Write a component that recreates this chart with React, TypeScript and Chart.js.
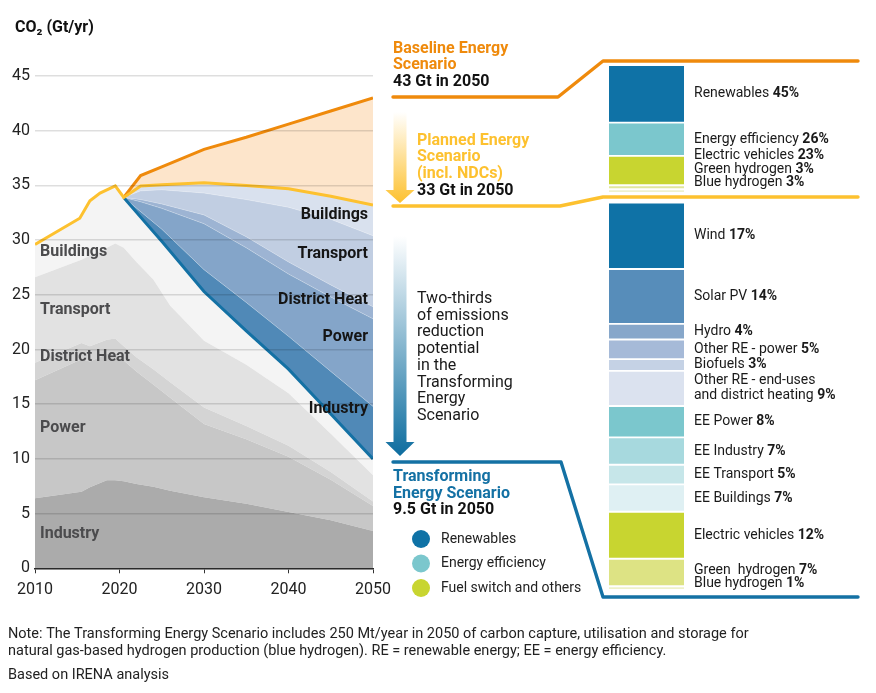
import React, { useEffect, useRef } from 'react';
import { Chart, registerables } from 'chart.js';

Chart.register(...registerables);

const FONT = 'Roboto, "Open Sans", "DejaVu Sans", sans-serif';
Chart.defaults.font.family = FONT;

// ---------- Left chart data (Gt CO2 / yr) ----------
const histYears = [2010, 2015.3, 2016.5, 2017.7, 2019.5, 2020.5];
const histTotal = [29.6, 32.0, 33.6, 34.3, 34.95, 33.9];

const futureYears = [2020.5, 2022.5, 2025, 2030, 2035, 2040, 2045, 2050];
const baselineTotal = [33.9, 35.9, 36.7, 38.3, 39.4, 40.6, 41.8, 43.0];
const plannedTotal = [33.9, 34.95, 35.05, 35.25, 35.0, 34.7, 34.0, 33.2];
const transformingTotal = [33.9, 32.1, 29.9, 25.3, 21.7, 18.2, 14.1, 10.0];

// Reduction layers (upper edge of each band, between Transforming and Planned)
const cutIndustryTop = [33.9, 32.6, 31.0, 27.3, 24.3, 21.2, 18.0, 14.8];
const cutPowerTop = [33.9, 33.5, 32.9, 31.5, 29.3, 26.9, 24.8, 22.8];
const cutDistrictHeatTop = [33.9, 33.7, 33.3, 32.3, 30.3, 28.0, 25.9, 23.9];
const cutTransportTop = [33.9, 34.5, 34.6, 34.3, 33.7, 33.0, 31.9, 30.4];

// Remaining emissions by sector (upper edge of each stacked band)
const sectorYears = [2010, 2015.5, 2016.5, 2018.5, 2019.5, 2020.5, 2022, 2024, 2026, 2030, 2035, 2040, 2045, 2050];
const industryTop = [6.4, 7.0, 7.4, 8.05, 8.05, 7.95, 7.7, 7.45, 7.1, 6.5, 5.9, 5.15, 4.4, 3.4];
const powerTop = [17.2, 19.1, 18.9, 19.6, 19.7, 19.0, 18.0, 16.8, 15.6, 13.2, 11.8, 10.2, 8.1, 5.7];
const districtHeatTop = [18.8, 20.6, 20.3, 20.9, 21.0, 20.3, 19.3, 18.2, 17.0, 14.7, 13.0, 11.2, 8.8, 6.1];
const transportTop = [26.6, 28.2, 28.6, 29.3, 29.7, 29.3, 28.0, 26.4, 24.0, 20.8, 18.6, 16.0, 12.3, 8.5];

const xTicks = [2010, 2020, 2030, 2040, 2050];

// ---------- Right bars data (share %) ----------
const topLabels = ['Renewables', 'Energy efficiency', 'Electric vehicles', 'Green hydrogen', 'Blue hydrogen'];
const topShares = [45, 26, 23, 3, 3];
const topColors = ['#0f72a6', '#7bc7cd', '#c8d530', '#e1e69c', '#eef1cd'];

const bottomLabels = [
  'Wind', 'Solar PV', 'Hydro', 'Other RE - power', 'Biofuels',
  'Other RE - end-uses\nand district heating', 'EE Power', 'EE Industry', 'EE Transport',
  'EE Buildings', 'Electric vehicles', 'Green  hydrogen', 'Blue hydrogen',
];
const bottomShares = [17, 14, 4, 5, 3, 9, 8, 7, 5, 7, 12, 7, 1];
const bottomColors = [
  '#0f72a6', '#578dba', '#87a7ca', '#a6bad8', '#c5d2e5', '#dbe2ef',
  '#7bc7cd', '#a7d9de', '#c6e6e9', '#dff0f3', '#c8d530', '#dde384', '#eef1c8',
];

const legendLabels = ['Renewables', 'Energy efficiency', 'Fuel switch and others'];
const legendColors = ['#0f72a6', '#7bc7cd', '#c8d530'];

const ORANGE = '#ef8a0c';
const YELLOW = '#fdc12f';
const BLUE = '#1471a4';

function pts(xs: number[], ys: number[]) {
  return xs.map((x, i) => ({ x, y: ys[i] }));
}

function txt(ctx: CanvasRenderingContext2D, s: string, x: number, y: number, font: string, color: string, align: CanvasTextAlign = 'left') {
  ctx.font = font + ' ' + FONT;
  ctx.fillStyle = color;
  ctx.textAlign = align;
  ctx.textBaseline = 'middle';
  ctx.fillText(s, x, y);
}

function connector(ctx: CanvasRenderingContext2D, p: number[][], color: string) {
  ctx.beginPath();
  ctx.moveTo(p[0][0], p[0][1]);
  for (let i = 1; i < p.length; i++) ctx.lineTo(p[i][0], p[i][1]);
  ctx.strokeStyle = color;
  ctx.lineWidth = 3.4;
  ctx.lineCap = 'round';
  ctx.lineJoin = 'round';
  ctx.stroke();
}

function gradArrow(ctx: CanvasRenderingContext2D, x: number, top: number, headStart: number, tip: number, color: string) {
  const g = ctx.createLinearGradient(0, top, 0, tip);
  g.addColorStop(0, 'rgba(255,255,255,1)');
  g.addColorStop(1, color);
  ctx.fillStyle = g;
  ctx.beginPath();
  ctx.moveTo(x - 6.5, top);
  ctx.lineTo(x + 6.5, top);
  ctx.lineTo(x + 6.5, headStart);
  ctx.lineTo(x + 14.5, headStart);
  ctx.lineTo(x, tip);
  ctx.lineTo(x - 14.5, headStart);
  ctx.lineTo(x - 6.5, headStart);
  ctx.closePath();
  ctx.fill();
}

const annotations = {
  id: 'annotations',
  afterDraw(chart: any) {
    const ctx: CanvasRenderingContext2D = chart.ctx;
    ctx.save();
    // axis title
    txt(ctx, 'CO₂ (Gt/yr)', 15, 28, 'bold 16px', '#111');

    // remaining sector labels (grey)
    const g = '#4b4b4d';
    const f = 'bold 16px';
    txt(ctx, 'Buildings', 40, 252, f, g);
    txt(ctx, 'Transport', 40, 310, f, g);
    txt(ctx, 'District Heat', 40, 357, f, g);
    txt(ctx, 'Power', 40, 428, f, g);
    txt(ctx, 'Industry', 40, 534, f, g);

    // reduction labels (blue area)
    const k = '#151515';
    txt(ctx, 'Buildings', 368, 215, f, k, 'right');
    txt(ctx, 'Transport', 368, 254, f, k, 'right');
    txt(ctx, 'District Heat', 368, 300, f, k, 'right');
    txt(ctx, 'Power', 368, 337, f, k, 'right');
    txt(ctx, 'Industry', 368, 409, f, k, 'right');

    // connectors
    connector(ctx, [[393, 97], [558, 97], [603, 61], [858, 61]], ORANGE);
    connector(ctx, [[393, 206], [560, 206], [603, 197], [858, 197]], YELLOW);
    connector(ctx, [[393, 462], [561, 462], [603, 597], [858, 597]], BLUE);

    // arrows
    gradArrow(ctx, 400, 112, 190, 203, YELLOW);
    gradArrow(ctx, 400, 236, 442, 456, '#0d6d9f');

    // scenario texts
    txt(ctx, 'Baseline Energy', 393, 49, f, ORANGE);
    txt(ctx, 'Scenario', 393, 65, f, ORANGE);
    txt(ctx, '43 Gt in 2050', 393, 82, f, '#111');

    txt(ctx, 'Planned Energy', 417, 141, f, YELLOW);
    txt(ctx, 'Scenario', 417, 157, f, YELLOW);
    txt(ctx, '(incl. NDCs)', 417, 174, f, YELLOW);
    txt(ctx, '33 Gt in 2050', 417, 191, f, '#111');

    const two = ['Two-thirds', 'of emissions', 'reduction', 'potential', 'in the', 'Transforming', 'Energy', 'Scenario'];
    two.forEach((s, i) => txt(ctx, s, 417, 299 + i * 16.7, '16px', '#1a1a1a'));

    txt(ctx, 'Transforming', 393, 477, f, BLUE);
    txt(ctx, 'Energy Scenario', 393, 494, f, BLUE);
    txt(ctx, '9.5 Gt in 2050', 393, 510, f, '#111');

    // legend
    legendLabels.forEach((s, i) => {
      const y = 539 + i * 24.5;
      ctx.beginPath();
      ctx.arc(421, y, 9, 0, Math.PI * 2);
      ctx.fillStyle = legendColors[i];
      ctx.fill();
      txt(ctx, s, 441, y, '14px', '#222');
    });

    // notes
    txt(ctx, 'Note: The Transforming Energy Scenario includes 250 Mt/year in 2050 of carbon capture, utilisation and storage for', 8, 634, '14.5px', '#222');
    txt(ctx, 'natural gas-based hydrogen production (blue hydrogen). RE = renewable energy; EE = energy efficiency.', 8, 651, '14.5px', '#222');
    txt(ctx, 'Based on IRENA analysis', 8, 675, '14.5px', '#222');
    ctx.restore();
  },
};

function area(data: any[], color: string, fill: any, border = 'rgba(0,0,0,0)', bw = 0) {
  return {
    data, backgroundColor: color, borderColor: border, borderWidth: bw, fill,
    pointRadius: 0, tension: 0, order: 10,
  };
}

function mainConfig(): any {
  const yellowLine = pts(histYears, histTotal).concat(pts(futureYears.slice(1), plannedTotal.slice(1)));
  const greyTotal = pts(histYears, histTotal).concat(pts(futureYears.slice(1), transformingTotal.slice(1)));
  const soft = 'rgba(255,255,255,0.35)';
  return {
    type: 'line',
    data: {
      datasets: [
        { data: yellowLine, borderColor: YELLOW, borderWidth: 3, fill: false, pointRadius: 0, order: 0 },           // 0
        { data: pts(futureYears, baselineTotal), borderColor: ORANGE, borderWidth: 3, fill: 0, backgroundColor: '#fde5cb', pointRadius: 0, order: 2 }, // 1
        { data: pts(futureYears, transformingTotal), borderColor: BLUE, borderWidth: 3, fill: false, pointRadius: 0, order: 1 }, // 2
        area(pts(sectorYears, industryTop), '#ababab', 'origin'),        // 3
        area(pts(sectorYears, powerTop), '#c7c7c7', 3),                  // 4
        area(pts(sectorYears, districtHeatTop), '#d4d4d4', 4),           // 5
        area(pts(sectorYears, transportTop), '#e2e2e2', 5),              // 6
        area(greyTotal, '#f4f4f4', 6),                                   // 7
        area(pts(futureYears, cutIndustryTop), '#5089b7', 7, soft, 0.8), // 8
        area(pts(futureYears, cutPowerTop), '#84a5c9', 8, soft, 0.8),    // 9
        area(pts(futureYears, cutDistrictHeatTop), '#9db4d3', 9, soft, 0.8), // 10
        area(pts(futureYears, cutTransportTop), '#c1cee2', 10, soft, 0.8),  // 11
        area(pts(futureYears, plannedTotal), '#d9e1ee', 11),             // 12
      ],
    },
    options: {
      responsive: false,
      animation: false,
      layout: { padding: { left: 0, right: 503, top: 76, bottom: 94.7 } },
      plugins: { legend: { display: false }, tooltip: { enabled: false }, filler: { propagate: false } },
      scales: {
        x: {
          type: 'linear', min: 2010, max: 2050,
          afterFit: (s: any) => { s.height = 30; },
          afterBuildTicks: (s: any) => { s.ticks = xTicks.map((v) => ({ value: v })); },
          ticks: { callback: (v: any) => String(v), font: { size: 16 }, color: '#222', padding: 7, maxRotation: 0 },
          grid: { drawOnChartArea: false, drawTicks: true, tickLength: 5, color: '#333', lineWidth: 1 },
          border: { display: true, color: '#2a2a2a', width: 1.6, z: 2 },
        },
        y: {
          min: 0, max: 45,
          afterFit: (s: any) => { s.width = 35; },
          ticks: { stepSize: 5, font: { size: 16 }, color: '#222', padding: 5 },
          grid: { color: 'rgba(0,0,0,0.13)', lineWidth: 1.5, drawTicks: false, z: 1 },
          border: { display: false },
        },
      },
    },
    plugins: [annotations],
  };
}

const LH = 13.5;
const barLabels = {
  id: 'barLabels',
  afterDatasetsDraw(chart: any) {
    const ctx: CanvasRenderingContext2D = chart.ctx;
    const ca = chart.chartArea;
    const blocks = chart.data.datasets.map((ds: any, i: number) => {
      const el = chart.getDatasetMeta(i).data[0];
      const lines = String(ds.label).split('\n');
      return { c: (el.y + el.base) / 2, lines, pct: ds.data[0] + '%', h: lines.length === 1 ? LH : LH + (lines.length - 1) * 15 };
    });
    const n = blocks.length;
    blocks[n - 1].c = Math.min(blocks[n - 1].c, ca.bottom - 3.5 - blocks[n - 1].h / 2);
    for (let i = n - 2; i >= 0; i--) {
      blocks[i].c = Math.min(blocks[i].c, blocks[i + 1].c - (blocks[i].h + blocks[i + 1].h) / 2);
    }
    ctx.save();
    ctx.textBaseline = 'middle';
    ctx.textAlign = 'left';
    const x = ca.right + 10;
    blocks.forEach((b: any) => {
      b.lines.forEach((line: string, j: number) => {
        const y = b.c - ((b.lines.length - 1) * 15) / 2 + j * 15;
        ctx.font = '14px ' + FONT;
        ctx.fillStyle = '#1a1a1a';
        ctx.fillText(line, x, y);
        if (j === b.lines.length - 1) {
          const w = ctx.measureText(line + ' ').width;
          ctx.font = 'bold 14px ' + FONT;
          ctx.fillText(b.pct, x + w, y);
        }
      });
    });
    ctx.restore();
  },
};

function barConfig(labels: string[], shares: number[], colors: string[], padding: any): any {
  return {
    type: 'bar',
    data: {
      labels: [''],
      datasets: shares.map((v, i) => ({
        label: labels[i],
        data: [v],
        backgroundColor: colors[i],
        borderColor: '#ffffff',
        borderWidth: { top: 1.3, bottom: 1.3, left: 0, right: 0 },
        borderSkipped: false,
        barPercentage: 1,
        categoryPercentage: 1,
      })),
    },
    options: {
      responsive: false,
      animation: false,
      layout: { padding },
      plugins: { legend: { display: false }, tooltip: { enabled: false } },
      scales: {
        x: { display: false, stacked: true },
        y: { display: false, stacked: true, reverse: true, min: 0, max: 100 },
      },
    },
    plugins: [barLabels],
  };
}

export default function App() {
  const mainRef = useRef<HTMLCanvasElement>(null);
  const topRef = useRef<HTMLCanvasElement>(null);
  const botRef = useRef<HTMLCanvasElement>(null);

  useEffect(() => {
    const charts: Chart[] = [];
    charts.push(new Chart(mainRef.current as HTMLCanvasElement, mainConfig()));
    charts.push(new Chart(topRef.current as HTMLCanvasElement,
      barConfig(topLabels, topShares, topColors, { left: 9, right: 192, top: 5, bottom: 7 })));
    charts.push(new Chart(botRef.current as HTMLCanvasElement,
      barConfig(bottomLabels, bottomShares, bottomColors, { left: 9, right: 192, top: 4.5, bottom: 4 })));
    return () => charts.forEach((c) => c.destroy());
  }, []);

  return (
    <div style={{ position: 'fixed', left: 0, top: 0, width: 876, height: 693, background: '#fff', overflow: 'hidden' }}>
      <canvas ref={mainRef} width={876} height={693} style={{ position: 'absolute', left: 0, top: 0 }} />
      <canvas ref={topRef} width={276} height={140} style={{ position: 'absolute', left: 600, top: 60 }} />
      <canvas ref={botRef} width={276} height={400} style={{ position: 'absolute', left: 600, top: 198 }} />
    </div>
  );
}
